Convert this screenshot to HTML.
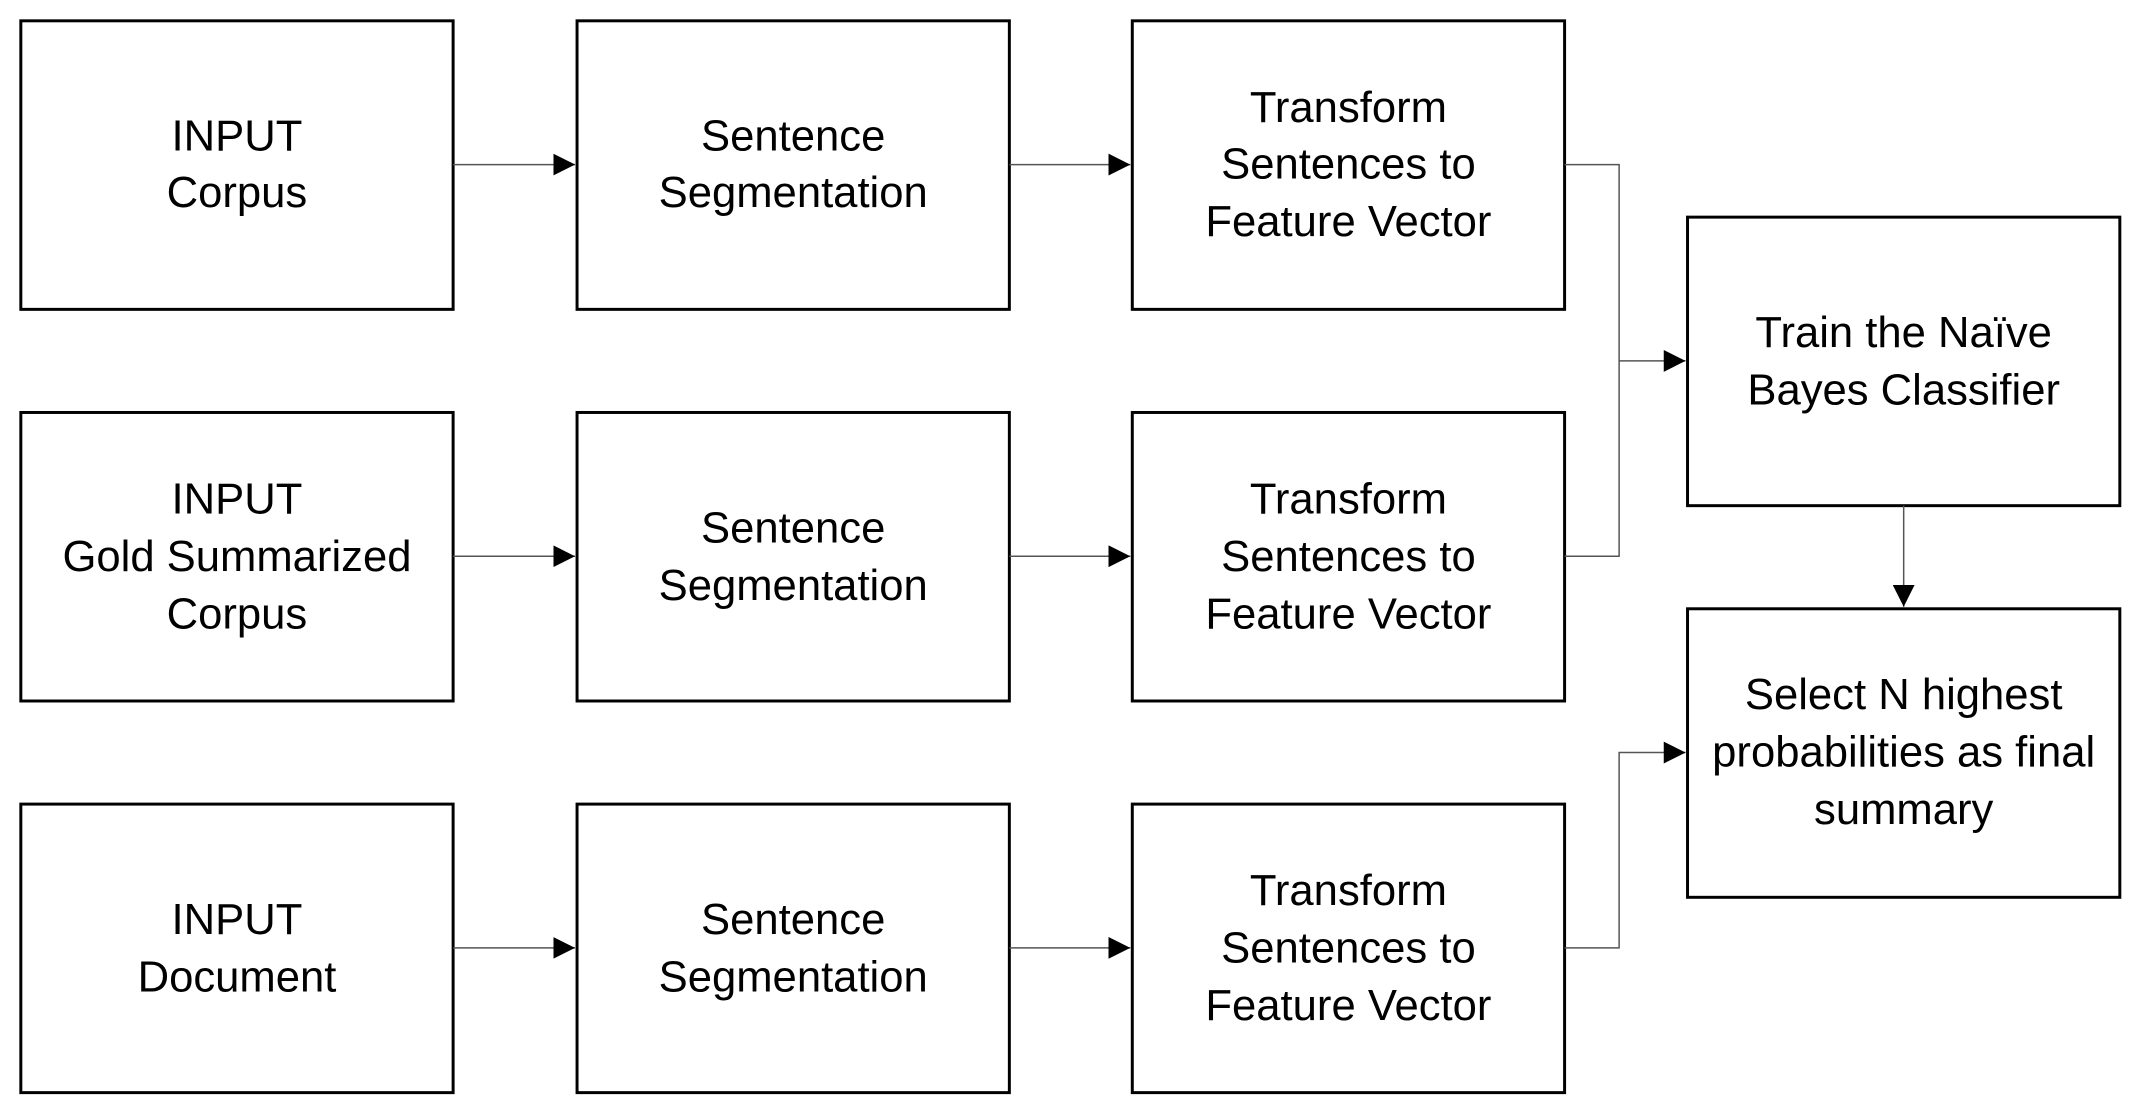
<!DOCTYPE html>
<html><head><meta charset="utf-8"><style>
body{margin:0;background:#fff;}
svg text{font-family:"Liberation Sans",sans-serif;font-size:44px;fill:#000;text-anchor:middle;}
</style></head><body>
<svg width="2155" height="1114" viewBox="0 0 2155 1114" xmlns="http://www.w3.org/2000/svg">
<defs>
<marker id="b" markerWidth="22" markerHeight="22" refX="22" refY="11" orient="auto" markerUnits="userSpaceOnUse" viewBox="0 0 22 22"><path d="M0,0 L22,11 L0,22z" fill="#000"/></marker></defs>
<g transform="scale(0.9915)">
<g fill="#fff" stroke="#000" stroke-width="3">
<rect x="21" y="21" width="436" height="291"/><rect x="582" y="21" width="436" height="291"/><rect x="1142" y="21" width="436" height="291"/>
<rect x="21" y="416" width="436" height="291"/><rect x="582" y="416" width="436" height="291"/><rect x="1142" y="416" width="436" height="291"/>
<rect x="21" y="811" width="436" height="291"/><rect x="582" y="811" width="436" height="291"/><rect x="1142" y="811" width="436" height="291"/>
<rect x="1702" y="219" width="436" height="291"/><rect x="1702" y="614" width="436" height="291"/>
</g>
<g stroke="#555" stroke-width="1.5" fill="none">
<line x1="457" y1="166" x2="580" y2="166" marker-end="url(#b)"/>
<line x1="1018" y1="166" x2="1140" y2="166" marker-end="url(#b)"/>
<line x1="457" y1="561" x2="580" y2="561" marker-end="url(#b)"/>
<line x1="1018" y1="561" x2="1140" y2="561" marker-end="url(#b)"/>
<line x1="457" y1="956" x2="580" y2="956" marker-end="url(#b)"/>
<line x1="1018" y1="956" x2="1140" y2="956" marker-end="url(#b)"/>
<polyline points="1578,166 1633,166 1633,561 1578,561"/>
<line x1="1633" y1="364" x2="1700" y2="364" marker-end="url(#b)"/>
<polyline points="1578,956 1633,956 1633,759 1700,759" marker-end="url(#b)"/>
<line x1="1920" y1="510" x2="1920" y2="612" marker-end="url(#b)"/>
</g>
<text x="239" y="152">INPUT</text><text x="239" y="209">Corpus</text>
<text x="800" y="152">Sentence</text><text x="800" y="209">Segmentation</text>
<text x="1360" y="123">Transform</text><text x="1360" y="180">Sentences to</text><text x="1360" y="238">Feature Vector</text>
<text x="239" y="518">INPUT</text><text x="239" y="576">Gold Summarized</text><text x="239" y="634">Corpus</text>
<text x="800" y="547">Sentence</text><text x="800" y="605">Segmentation</text>
<text x="1360" y="518">Transform</text><text x="1360" y="576">Sentences to</text><text x="1360" y="634">Feature Vector</text>
<text x="239" y="942">INPUT</text><text x="239" y="1000">Document</text>
<text x="800" y="942">Sentence</text><text x="800" y="1000">Segmentation</text>
<text x="1360" y="913">Transform</text><text x="1360" y="971">Sentences to</text><text x="1360" y="1029">Feature Vector</text>
<text x="1920" y="350">Train the Naïve</text><text x="1920" y="408">Bayes Classifier</text>
<text x="1920" y="715">Select N highest</text><text x="1920" y="773">probabilities as final</text><text x="1920" y="831">summary</text>
</g>
</svg>
</body></html>
